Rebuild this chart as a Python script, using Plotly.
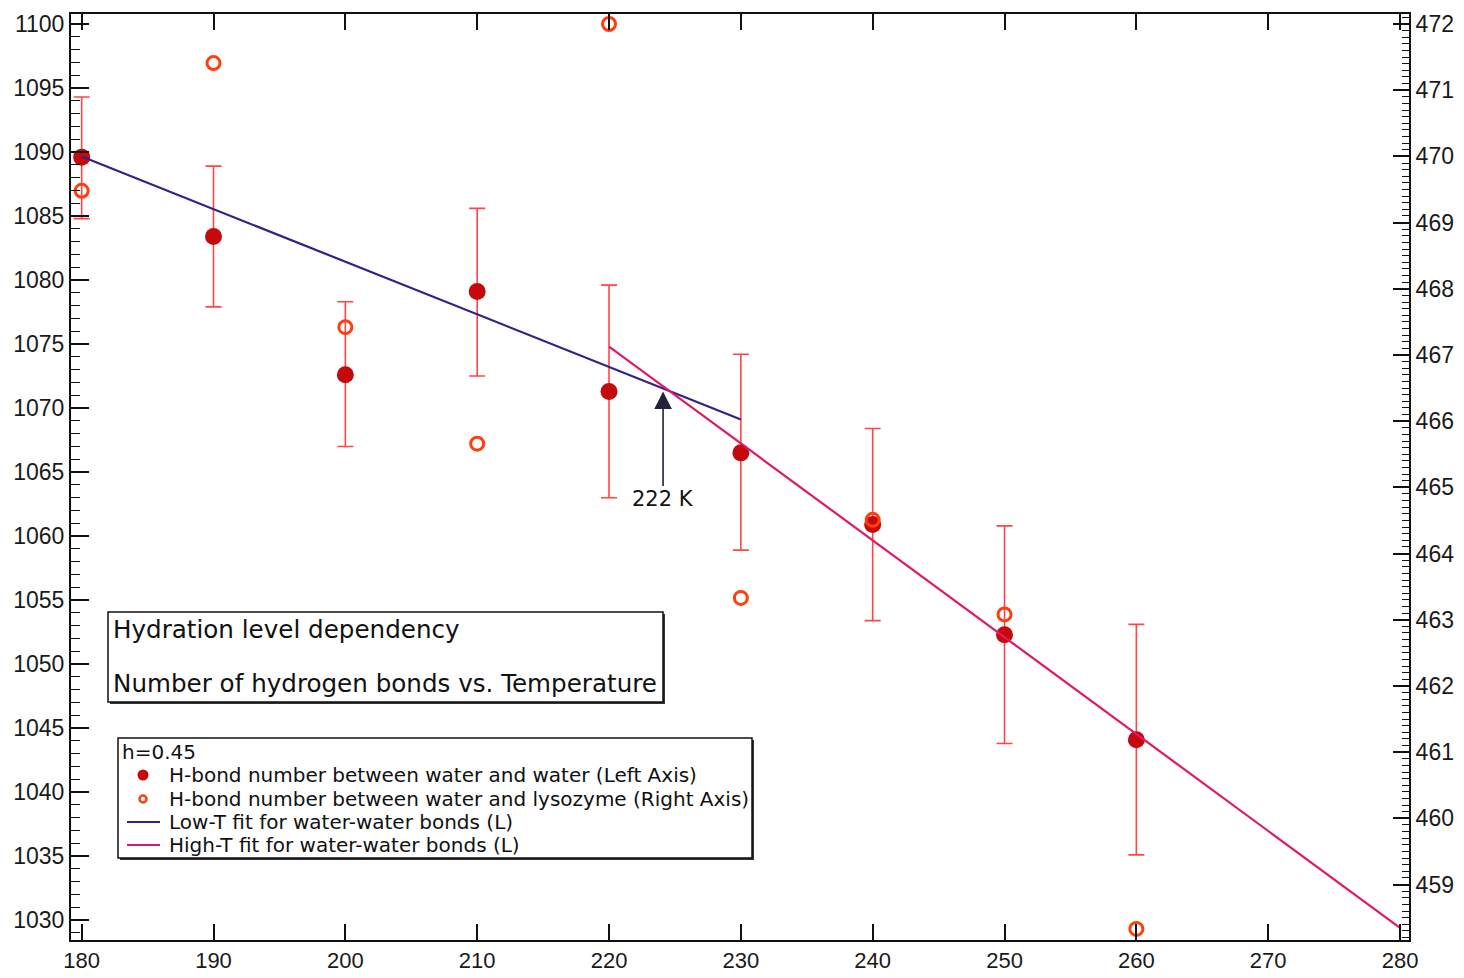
import plotly.graph_objects as go

# ---- data -------------------------------------------------------------
temperature = [180, 190, 200, 210, 220, 230, 240, 250, 260]

# water-water hydrogen bonds (left axis) with error-bar limits
ww_bonds = [1089.6, 1083.4, 1072.6, 1079.1, 1071.3, 1066.5, 1060.9, 1052.3, 1044.1]
ww_upper = [1094.3, 1088.9, 1078.3, 1085.6, 1079.6, 1074.2, 1068.4, 1060.8, 1053.1]
ww_lower = [1084.8, 1077.9, 1067.0, 1072.5, 1063.0, 1058.9, 1053.4, 1043.8, 1035.1]

# water-lysozyme hydrogen bonds (right axis)
wl_bonds = [469.48, 471.41, 467.42, 465.66, 472.0, 463.33, 464.51, 463.08, 458.33]

# linear fits of the water-water bonds (end points)
low_fit_t = [180, 230]
low_fit_n = [1089.65, 1069.1]
high_fit_t = [220, 280]
high_fit_n = [1074.8, 1029.4]

crossover_t = 224.1
crossover_n = 1071.3
crossover_label = "222 K"

x_ticks = list(range(180, 281, 10))
left_ticks = list(range(1030, 1101, 5))
right_ticks = list(range(459, 473))

# ---- styling ----------------------------------------------------------
W, H = 1464, 978
ML, MR, MT, MB = 71, 55, 14, 38
PW, PH = W - ML - MR, H - MT - MB

FILLED = "#c40a0c"
HOLLOW = "#ff3d0d"
ERRBAR = "#ff4545"
LOW_C = "#33218a"
HIGH_C = "#e0186a"
TICK_FONT = dict(family="Liberation Sans, Arial, sans-serif", size=23, color="#1a1a1a")
XTICK_FONT = dict(family="Liberation Sans, Arial, sans-serif", size=22, color="#1a1a1a")
NOTE_FONT = "DejaVu Sans, sans-serif"


def px(x):
    return (x - ML) / PW


def py(y):
    return (H - MB - y) / PH


err_plus = [u - v for u, v in zip(ww_upper, ww_bonds)]
err_minus = [v - l for v, l in zip(ww_bonds, ww_lower)]

fig = go.Figure()

fig.add_trace(go.Scatter(
    x=temperature, y=ww_bonds, mode="markers",
    marker=dict(color=FILLED, size=17, line=dict(width=0)),
    error_y=dict(type="data", symmetric=False, array=err_plus, arrayminus=err_minus,
                 color=ERRBAR, thickness=1.6, width=8),
    name="H-bond number between water and water (Left Axis)",
))
fig.add_trace(go.Scatter(
    x=low_fit_t, y=low_fit_n, mode="lines",
    line=dict(color=LOW_C, width=2.2),
    name="Low-T fit for water-water bonds (L)",
))
fig.add_trace(go.Scatter(
    x=high_fit_t, y=high_fit_n, mode="lines",
    line=dict(color=HIGH_C, width=2.2),
    name="High-T fit for water-water bonds (L)",
))
fig.add_trace(go.Scatter(
    x=temperature, y=wl_bonds, mode="markers", yaxis="y2",
    marker=dict(color="rgba(0,0,0,0)", size=13, line=dict(color=HOLLOW, width=3)),
    name="H-bond number between water and lysozyme (Right Axis)",
))

# ---- title box and legend box (drawn as shapes + text) ----------------
shapes = []
annotations = []

# title box with a small drop shadow
tb = (108, 612, 663, 702)
shapes.append(dict(type="rect", xref="paper", yref="paper", layer="below",
                   x0=px(tb[0] + 2), x1=px(tb[2] + 2), y0=py(tb[3] + 2), y1=py(tb[1] + 2),
                   fillcolor="#333333", line=dict(width=0)))
shapes.append(dict(type="rect", xref="paper", yref="paper", layer="below",
                   x0=px(tb[0]), x1=px(tb[2]), y0=py(tb[3]), y1=py(tb[1]),
                   fillcolor="white", line=dict(color="#111111", width=1.5)))
for text, yc in [("Hydration level dependency", 629), ("Number of hydrogen bonds vs. Temperature", 683)]:
    annotations.append(dict(xref="paper", yref="paper", x=px(111), y=py(yc), text=text,
                            showarrow=False, xanchor="left", yanchor="middle",
                            font=dict(family=NOTE_FONT, size=24.6, color="#111111")))

# legend box
lb = (118, 738, 752, 858)
shapes.append(dict(type="rect", xref="paper", yref="paper", layer="below",
                   x0=px(lb[0] + 2), x1=px(lb[2] + 2), y0=py(lb[3] + 2), y1=py(lb[1] + 2),
                   fillcolor="#333333", line=dict(width=0)))
shapes.append(dict(type="rect", xref="paper", yref="paper", layer="below",
                   x0=px(lb[0]), x1=px(lb[2]), y0=py(lb[3]), y1=py(lb[1]),
                   fillcolor="white", line=dict(color="#111111", width=1.5)))
annotations.append(dict(xref="paper", yref="paper", x=px(120), y=py(752), text="h=0.45",
                        showarrow=False, xanchor="left", yanchor="middle",
                        font=dict(family=NOTE_FONT, size=20, color="#111111")))
legend_rows = [
    ("H-bond number between water and water (Left Axis)", 775, "filled"),
    ("H-bond number between water and lysozyme (Right Axis)", 799, "hollow"),
    ("Low-T fit for water-water bonds (L)", 822, LOW_C),
    ("High-T fit for water-water bonds (L)", 845, HIGH_C),
]
for text, yc, sym in legend_rows:
    annotations.append(dict(xref="paper", yref="paper", x=px(167), y=py(yc), text=text,
                            showarrow=False, xanchor="left", yanchor="middle",
                            font=dict(family=NOTE_FONT, size=20, color="#111111")))
    if sym == "filled":
        shapes.append(dict(type="circle", xref="paper", yref="paper",
                           x0=px(137.5), x1=px(148.5), y0=py(780.5), y1=py(769.5),
                           fillcolor=FILLED, line=dict(width=0)))
    elif sym == "hollow":
        shapes.append(dict(type="circle", xref="paper", yref="paper",
                           x0=px(139.5), x1=px(146.5), y0=py(802.5), y1=py(795.5),
                           fillcolor="rgba(0,0,0,0)", line=dict(color=HOLLOW, width=2.5)))
    else:
        shapes.append(dict(type="line", xref="paper", yref="paper",
                           x0=px(127), x1=px(160), y0=py(yc), y1=py(yc),
                           line=dict(color=sym, width=2)))

# crossover arrow
annotations.append(dict(x=crossover_t, y=crossover_n, xref="x", yref="y",
                        text=crossover_label, showarrow=True, arrowhead=2, arrowsize=2.2,
                        arrowwidth=1.6, arrowcolor="#22223a", ax=0, ay=108,
                        axref="pixel", ayref="pixel",
                        font=dict(family=NOTE_FONT, size=21, color="#111111")))

fig.update_layout(
    width=W, height=H,
    margin=dict(l=ML, r=MR, t=MT, b=MB, autoexpand=False),
    paper_bgcolor="white", plot_bgcolor="white",
    showlegend=False,
    shapes=shapes, annotations=annotations,
    xaxis=dict(range=[179.19, 280.68], tickvals=x_ticks, ticks="inside", ticklen=16,
               tickwidth=1.5, tickcolor="#111111", showline=True, linewidth=2,
               linecolor="#111111", mirror="ticks", showgrid=False, zeroline=False,
               tickfont=XTICK_FONT, automargin=False),
    yaxis=dict(range=[1028.45, 1100.78], tickvals=left_ticks, ticks="inside", ticklen=18,
               tickwidth=1.5, tickcolor="#111111", showline=True, linewidth=2,
               linecolor="#111111", showgrid=False, zeroline=False, tickfont=TICK_FONT,
               automargin=False,
               minor=dict(dtick=1, ticks="inside", ticklen=9, tickwidth=1.3,
                          tickcolor="#111111", showgrid=False)),
    yaxis2=dict(range=[458.162, 472.151], tickvals=right_ticks, overlaying="y", side="right",
                ticks="inside", ticklen=16, tickwidth=1.5, tickcolor="#111111",
                showline=True, linewidth=2, linecolor="#111111", showgrid=False,
                zeroline=False, tickfont=TICK_FONT, automargin=False,
                minor=dict(dtick=0.1, ticks="inside", ticklen=7, tickwidth=1.2,
                           tickcolor="#111111", showgrid=False)),
)

fig.write_html("out.html")
